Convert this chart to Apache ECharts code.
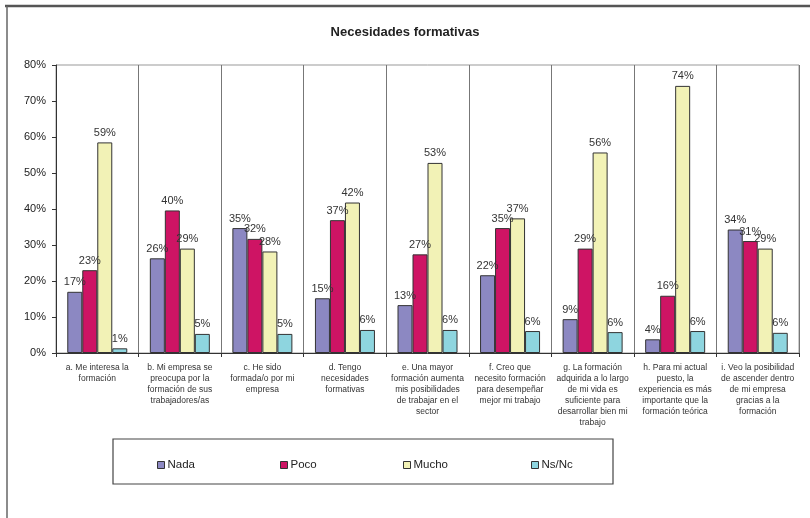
<!DOCTYPE html>
<html>
<head>
<meta charset="utf-8">
<title>Necesidades formativas</title>
<script src="https://cdn.jsdelivr.net/npm/echarts@6/dist/echarts.min.js"></script>
<style>
  html, body { margin: 0; padding: 0; background: #fff; }
  #main { width: 810px; height: 518px; }
</style>
</head>
<body>
<div id="main"></div>
<script>
// categorias del eje X
var categorias = [
    'a. Me interesa la\nformación',
    'b. Mi empresa se\npreocupa por la\nformación de sus\ntrabajadores/as',
    'c. He sido\nformada/o por mi\nempresa',
    'd. Tengo\nnecesidades\nformativas',
    'e. Una mayor\nformación aumenta\nmis posibilidades\nde trabajar en el\nsector',
    'f. Creo que\nnecesito formación\npara desempeñar\nmejor mi trabajo',
    'g. La formación\nadquirida a lo largo\nde mi vida es\nsuficiente para\ndesarrollar bien mi\ntrabajo',
    'h. Para mi actual\npuesto, la\nexperiencia es más\nimportante que la\nformación teórica',
    'i. Veo la posibilidad\nde ascender dentro\nde mi empresa\ngracias a la\nformación'
];

// valores (%)
var nada  = [17.0, 26.3, 34.7, 15.2, 13.3, 21.6, 9.4, 3.8, 34.3];
var poco  = [23.0, 39.6, 31.7, 36.9, 27.4, 34.7, 29.0, 15.9, 31.1];
var mucho = [58.5, 29.0, 28.2, 41.8, 52.8, 37.4, 55.7, 74.2, 29.0];
var nsnc  = [1.3, 5.3, 5.3, 6.4, 6.4, 6.1, 5.8, 6.1, 5.6];

var ticksY = [0, 10, 20, 30, 40, 50, 60, 70, 80];
var nombres = ['Nada', 'Poco', 'Mucho', 'Ns/Nc'];
var colores = ['#8C88C2', '#CE1464', '#F2F2B6', '#8ED5DF'];

var fuente = '"Liberation Sans", Arial, sans-serif';

function serie(nombre, datos, color) {
    return {
        name: nombre,
        type: 'bar',
        data: datos,
        barWidth: 15,
        barGap: '0%',
        itemStyle: { color: color, borderColor: '#333', borderWidth: 1 },
        label: {
            show: true,
            position: 'top',
            distance: 4,
            fontSize: 11,
            fontFamily: fuente,
            color: '#333',
            formatter: function (p) { return Math.round(p.value) + '%'; }
        }
    };
}

var leyendaX = [152, 275, 398, 526];
var leyendas = nombres.map(function (n, i) {
    return {
        data: [n],
        left: leyendaX[i],
        top: 454,
        icon: 'rect',
        itemWidth: 7,
        itemHeight: 7,
        itemGap: 0,
        selectedMode: false,
        itemStyle: { borderColor: '#333', borderWidth: 1 },
        textStyle: { fontSize: 11.5, fontFamily: fuente, color: '#222', padding: [0, 0, 0, -2] }
    };
});

var myChart = echarts.init(document.getElementById('main'));
var option = {
    animation: false,
    backgroundColor: '#fff',
    title: {
        text: 'Necesidades formativas',
        left: 'center',
        top: 21,
        textStyle: { fontSize: 13, fontWeight: 'bold', fontFamily: fuente, color: '#222' }
    },
    legend: leyendas,
    grid: {
        left: 56,
        right: 11,
        top: 65,
        bottom: 165,
        show: true,
        borderColor: '#999',
        borderWidth: 1
    },
    xAxis: {
        type: 'category',
        data: categorias,
        axisLine: { lineStyle: { color: '#333' } },
        axisTick: { show: true, alignWithLabel: false, length: 4, lineStyle: { color: '#333' } },
        splitLine: { show: true, lineStyle: { color: '#777', width: 1 } },
        axisLabel: {
            interval: 0,
            margin: 9,
            fontSize: 8.5,
            lineHeight: 11,
            fontFamily: fuente,
            color: '#333',
            align: 'center'
        }
    },
    yAxis: {
        type: 'value',
        min: ticksY[0],
        max: ticksY[ticksY.length - 1],
        interval: 10,
        axisLine: { show: true, lineStyle: { color: '#333' } },
        axisTick: { show: true, length: 4, lineStyle: { color: '#333' } },
        splitLine: { show: false },
        axisLabel: {
            margin: 10,
            fontSize: 11,
            fontFamily: fuente,
            color: '#222',
            formatter: '{value}%'
        }
    },
    series: [
        serie(nombres[0], nada, colores[0]),
        serie(nombres[1], poco, colores[1]),
        serie(nombres[2], mucho, colores[2]),
        serie(nombres[3], nsnc, colores[3])
    ],
    graphic: [
        // marco exterior
        { type: 'line', shape: { x1: 5, y1: 6, x2: 810, y2: 6 }, style: { stroke: '#555', lineWidth: 2.5 }, silent: true },
        { type: 'line', shape: { x1: 7, y1: 6, x2: 7, y2: 518 }, style: { stroke: '#666', lineWidth: 1.5 }, silent: true },
        // caja de la leyenda
        { type: 'rect', shape: { x: 113, y: 439, width: 500, height: 45 }, style: { fill: 'none', stroke: '#444', lineWidth: 1.2 }, silent: true, z: -1 }
    ]
};
myChart.setOption(option);
</script>
</body>
</html>
